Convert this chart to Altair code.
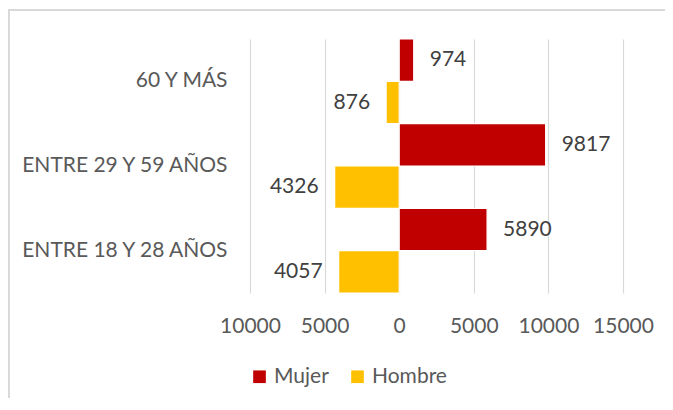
import altair as alt
import pandas as pd

ages = ["60 Y MÁS\u00a0", "ENTRE 29 Y 59 AÑOS", "ENTRE 18 Y 28 AÑOS"]
mujer = [974, 9817, 5890]
hombre = [876, 4326, 4057]
sexes = ["Mujer", "Hombre"]
colors = ["#C00000", "#FFC000"]
x_ticks = [-10000, -5000, 0, 5000, 10000, 15000]

rows = []
for a, m, h in zip(ages, mujer, hombre):
    rows.append({"age": a, "sex": "Mujer", "value": m, "label": str(m)})
    rows.append({"age": a, "sex": "Hombre", "value": -h, "label": str(h)})
df = pd.DataFrame(rows)

FONT = "Lato"
FS = 21

y_enc = alt.Y("age:N", sort=ages, title=None,
              scale=alt.Scale(paddingInner=0, paddingOuter=0),
              axis=alt.Axis(domain=False, ticks=False, labelFontSize=FS,
                            labelColor="#595959", labelFont=FONT,
                            labelPadding=23, labelLimit=300))
yoff = alt.YOffset("sex:N", sort=sexes, scale=alt.Scale(paddingInner=0.0, paddingOuter=0.0))
x_enc = alt.X("value:Q", title=None,
              scale=alt.Scale(domain=[-10000, 15000], nice=False),
              axis=alt.Axis(values=x_ticks, domain=False, ticks=False,
                            labelExpr="format(abs(datum.value), 'd')",
                            labelOverlap=False, labelFlush=False,
                            labelFontSize=FS, labelColor="#595959", labelFont=FONT,
                            labelPadding=22, gridColor="#d9d9d9", gridWidth=1.2))

base = alt.Chart(df)

bars = base.mark_bar(stroke="white", strokeWidth=1.2).encode(
    x=x_enc, y=y_enc, yOffset=yoff,
    color=alt.Color("sex:N", sort=sexes,
                    scale=alt.Scale(domain=sexes, range=colors),
                    legend=alt.Legend(title=None, orient="none", direction="horizontal",
                                      legendX=-1, legendY=327,
                                      symbolType="square", symbolSize=160,
                                      symbolStrokeWidth=0,
                                      labelFontSize=FS, labelColor="#595959",
                                      labelFont=FONT, labelOffset=4,
                                      columnPadding=18)),
)

txt_m = base.transform_filter(alt.datum.sex == "Mujer").mark_text(
    align="left", dx=16, fontSize=FS, font=FONT, color="#404040", baseline="middle"
).encode(x="value:Q", y=alt.Y("age:N", sort=ages), yOffset=yoff, text="label:N")

txt_h = base.transform_filter(alt.datum.sex == "Hombre").mark_text(
    align="right", dx=-16, fontSize=FS, font=FONT, color="#404040", baseline="middle"
).encode(x="value:Q", y=alt.Y("age:N", sort=ages), yOffset=yoff, text="label:N")

border = alt.Chart(pd.DataFrame({"k": [0]})).mark_rect(
    fill=None, stroke="#d9d9d9", strokeWidth=2
).encode(x=alt.value(-241), x2=alt.value(440), y=alt.value(-29), y2=alt.value(400))

chart = alt.layer(border, bars, txt_m, txt_h).properties(
    width=373, height=254,
    padding={"left": 242, "top": 31, "right": 42, "bottom": 105},
    autosize=alt.AutoSizeParams(type="none"),
).configure_view(stroke=None)

chart.save("out.html", embed_options={"renderer": "svg", "actions": False})
